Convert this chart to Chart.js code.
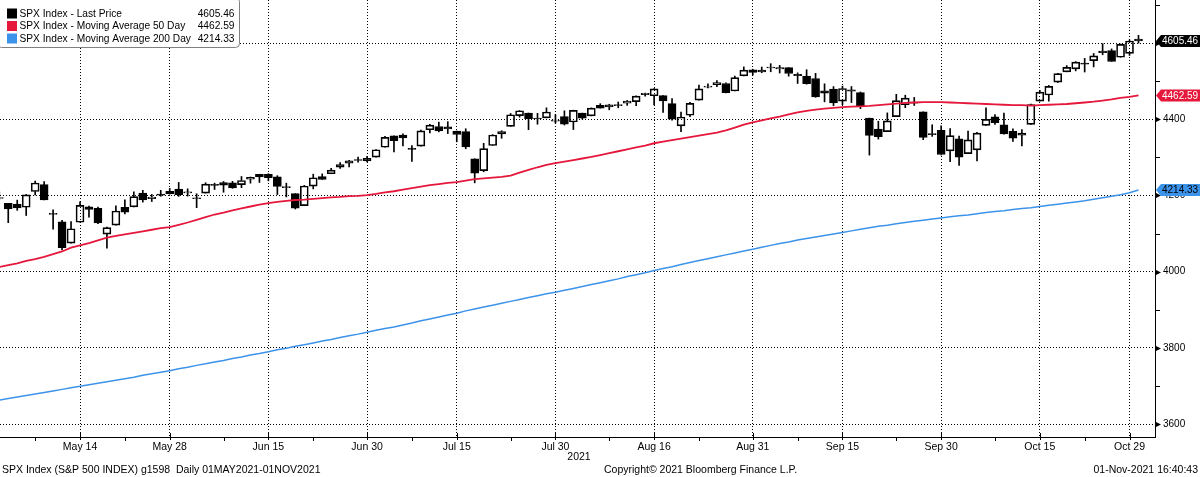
<!DOCTYPE html>
<html><head><meta charset="utf-8">
<script src="https://cdn.jsdelivr.net/npm/chart.js@4.4.0/dist/chart.umd.min.js"></script>
<style>html,body{margin:0;padding:0;background:#fff;overflow:hidden}</style>
</head><body>
<canvas id="c" width="1200" height="477"></canvas>
<script>
const dates = ['May 3','May 4','May 5','May 6','May 7','May 10','May 11','May 12','May 13','May 14',
'May 17','May 18','May 19','May 20','May 21','May 24','May 25','May 26','May 27','May 28',
'Jun 1','Jun 2','Jun 3','Jun 4','Jun 7','Jun 8','Jun 9','Jun 10','Jun 11','Jun 14',
'Jun 15','Jun 16','Jun 17','Jun 18','Jun 21','Jun 22','Jun 23','Jun 24','Jun 25','Jun 28',
'Jun 29','Jun 30','Jul 1','Jul 2','Jul 6','Jul 7','Jul 8','Jul 9','Jul 12','Jul 13',
'Jul 14','Jul 15','Jul 16','Jul 19','Jul 20','Jul 21','Jul 22','Jul 23','Jul 26','Jul 27',
'Jul 28','Jul 29','Jul 30','Aug 2','Aug 3','Aug 4','Aug 5','Aug 6','Aug 9','Aug 10',
'Aug 11','Aug 12','Aug 13','Aug 16','Aug 17','Aug 18','Aug 19','Aug 20','Aug 23','Aug 24',
'Aug 25','Aug 26','Aug 27','Aug 30','Aug 31','Sep 1','Sep 2','Sep 3','Sep 7','Sep 8',
'Sep 9','Sep 10','Sep 13','Sep 14','Sep 15','Sep 16','Sep 17','Sep 20','Sep 21','Sep 22',
'Sep 23','Sep 24','Sep 27','Sep 28','Sep 29','Sep 30','Oct 1','Oct 4','Oct 5','Oct 6',
'Oct 7','Oct 8','Oct 11','Oct 12','Oct 13','Oct 14','Oct 15','Oct 18','Oct 19','Oct 20',
'Oct 21','Oct 22','Oct 25','Oct 26','Oct 27','Oct 28','Oct 29','Nov 1'];

const openP = [4191.98,4179.04,4177.06,4169.14,4210.34,4228.29,4150.34,4130.55,4074.99,4129.58,
4169.92,4165.94,4098.45,4121.97,4168.61,4170.16,4205.94,4191.59,4201.94,4210.77,
4216.52,4206.82,4191.43,4206.05,4229.34,4233.81,4232.99,4228.56,4242.90,4248.31,
4255.28,4248.87,4220.37,4204.78,4173.40,4224.61,4249.27,4256.97,4274.45,4284.90,
4293.21,4290.65,4300.73,4326.60,4356.46,4351.01,4321.07,4329.38,4372.41,4381.07,
4380.11,4369.02,4367.43,4296.40,4265.11,4331.13,4361.27,4381.20,4409.58,4416.38,
4402.95,4403.59,4395.12,4406.86,4392.74,4415.95,4408.86,4429.07,4437.77,4435.79,
4442.18,4446.08,4464.84,4461.65,4462.12,4440.94,4382.44,4410.56,4450.29,4484.40,
4490.45,4493.75,4474.10,4513.76,4529.75,4528.80,4534.48,4532.42,4535.38,4518.09,
4513.02,4506.92,4474.81,4479.33,4447.49,4477.09,4469.74,4402.95,4374.45,4367.43,
4406.75,4438.04,4442.12,4419.54,4362.41,4370.67,4317.16,4348.84,4309.87,4319.57,
4383.73,4406.51,4385.44,4368.31,4358.01,4386.75,4447.69,4463.72,4497.34,4524.42,
4532.24,4546.12,4553.69,4578.69,4580.22,4562.84,4572.87,4610.62];

const highP = [4209.39,4179.04,4187.72,4202.70,4238.04,4236.39,4162.04,4134.73,4131.58,4183.13,
4171.92,4169.15,4116.93,4172.80,4188.72,4209.52,4213.42,4202.61,4213.38,4218.36,
4234.12,4217.37,4204.39,4233.45,4232.34,4236.74,4237.09,4249.74,4248.38,4255.59,
4257.16,4251.89,4232.29,4204.78,4226.24,4255.84,4256.60,4271.28,4286.12,4292.14,
4300.52,4302.43,4320.66,4355.43,4356.46,4361.88,4330.88,4371.60,4386.68,4392.37,
4393.68,4369.02,4375.09,4296.40,4336.84,4359.70,4369.87,4415.18,4422.73,4416.38,
4415.47,4429.97,4412.25,4422.18,4423.79,4416.17,4429.76,4440.82,4439.39,4445.21,
4449.44,4461.77,4468.37,4480.26,4462.12,4454.32,4418.61,4444.35,4489.88,4492.81,
4501.71,4495.90,4513.33,4537.36,4531.39,4537.11,4545.85,4541.45,4535.38,4521.79,
4529.90,4520.47,4492.99,4485.68,4486.87,4485.87,4471.52,4402.95,4394.87,4416.75,
4465.40,4463.12,4457.30,4419.54,4385.57,4382.55,4375.19,4355.51,4369.23,4365.57,
4429.97,4412.02,4415.88,4374.89,4372.87,4439.73,4475.82,4488.75,4520.40,4540.87,
4551.44,4559.67,4572.62,4598.53,4584.57,4597.55,4608.08,4620.34];

const lowP = [4188.03,4128.59,4160.94,4147.33,4201.64,4188.13,4111.53,4056.88,4074.99,4129.58,
4142.69,4125.99,4061.41,4121.97,4151.72,4170.16,4182.52,4184.11,4197.78,4203.57,
4197.59,4198.27,4167.93,4206.05,4215.66,4208.41,4218.74,4220.34,4232.25,4234.07,
4238.35,4202.45,4196.05,4164.40,4173.40,4217.27,4241.43,4256.97,4271.16,4274.67,
4287.04,4287.96,4300.73,4326.60,4314.37,4329.79,4289.37,4329.38,4364.03,4366.92,
4362.36,4340.70,4322.53,4233.13,4262.05,4331.13,4350.06,4381.20,4405.45,4372.51,
4387.01,4403.59,4389.65,4384.81,4373.00,4400.23,4408.86,4429.07,4424.74,4430.03,
4436.42,4435.96,4460.82,4437.66,4417.83,4397.59,4367.73,4406.80,4450.29,4482.28,
4485.66,4468.99,4474.10,4513.76,4515.80,4522.02,4524.66,4521.31,4513.00,4493.95,
4492.07,4457.66,4445.70,4435.46,4438.37,4443.80,4427.76,4305.91,4347.96,4367.43,
4406.75,4430.27,4436.19,4346.33,4355.08,4306.24,4288.52,4278.94,4309.87,4290.49,
4383.73,4386.22,4360.59,4342.09,4329.92,4386.75,4447.69,4447.47,4496.41,4524.40,
4526.89,4524.00,4537.36,4569.17,4551.66,4562.84,4567.59,4600.00];

const closeP = [4192.66,4164.66,4167.59,4201.62,4232.60,4188.43,4152.10,4063.04,4112.50,4173.85,
4163.29,4127.83,4115.68,4159.12,4155.86,4197.05,4188.13,4195.99,4200.88,4204.11,
4202.04,4208.12,4192.85,4229.89,4226.52,4227.26,4219.55,4239.18,4247.44,4255.15,
4246.59,4223.70,4221.86,4166.45,4224.79,4246.44,4241.84,4266.49,4280.70,4290.61,
4291.80,4297.50,4319.94,4352.34,4343.54,4358.13,4320.82,4369.55,4384.63,4369.21,
4374.30,4360.03,4327.16,4258.49,4323.06,4358.69,4367.48,4411.79,4422.30,4401.46,
4400.64,4419.15,4395.26,4387.16,4423.15,4402.66,4429.10,4436.52,4432.35,4436.75,
4447.70,4460.83,4468.00,4479.71,4448.08,4400.27,4405.80,4441.67,4479.53,4486.23,
4496.19,4470.00,4509.37,4528.79,4522.68,4524.09,4536.95,4535.43,4520.03,4514.07,
4493.28,4458.58,4468.73,4443.05,4480.70,4473.75,4432.99,4357.73,4354.19,4395.64,
4448.98,4455.48,4443.11,4352.63,4359.46,4307.54,4357.04,4300.46,4345.72,4363.55,
4399.76,4391.34,4361.19,4350.65,4363.80,4438.26,4471.37,4486.46,4519.63,4536.19,
4549.78,4544.90,4566.48,4574.79,4551.68,4596.42,4605.38,4605.46];

const ma50 = [4012,4017,4022,4028,4033,4039,4046,4053,4063,4069,
4075,4082,4089,4094,4098,4102,4106,4110,4114,4117,
4123,4129,4136,4143,4150,4155,4161,4166,4171,4176,
4180,4183,4186,4188,4189,4191,4193,4195,4196,4198,
4199,4201,4204,4208,4211,4215,4219,4223,4227,4230,
4233,4235,4239,4243,4245,4247,4249,4252,4260,4267,
4274,4280,4285,4289,4293,4297,4301,4306,4311,4316,
4321,4326,4331,4337,4341,4345,4349,4353,4357,4361,
4365,4371,4378,4386,4392,4397,4402,4407,4413,4418,
4422,4425,4428,4430,4432,4433,4434,4435,4437,4439,
4441,4443,4444,4445,4445,4445,4444,4443,4442,4441,
4440,4439,4438,4437,4437,4436,4437,4438,4439,4440,
4442,4444,4446,4449,4452,4456,4459,4462.59];

const ma200 = [3663,3667,3671,3675,3679,3683,3687,3691,3695,3699,
3703,3707,3711,3715,3719,3723,3728,3732,3736,3740,
3745,3749,3754,3758,3763,3767,3772,3776,3781,3785,
3790,3795,3799,3804,3808,3813,3818,3822,3827,3832,
3836,3841,3846,3851,3855,3860,3865,3871,3876,3881,
3886,3891,3897,3902,3907,3912,3917,3922,3927,3932,
3937,3942,3946,3951,3956,3961,3966,3971,3976,3981,
3987,3992,3997,4003,4008,4013,4019,4024,4029,4034,
4039,4044,4049,4054,4059,4064,4069,4074,4078,4083,
4087,4091,4095,4099,4103,4107,4111,4115,4119,4122,
4126,4129,4132,4135,4138,4141,4144,4147,4149,4152,
4155,4158,4160,4163,4166,4168,4171,4174,4177,4180,
4183,4186,4190,4194,4198,4202,4207,4214.33];

const tickDates = ['May 14','May 28','Jun 15','Jun 30','Jul 15','Jul 30','Aug 16','Aug 31','Sep 15','Sep 30','Oct 15','Oct 29'];
const minorTickDates = ['May 7','May 21','Jun 8','Jun 22','Jul 8','Jul 23','Aug 9','Aug 23','Sep 8','Sep 23','Oct 8','Oct 22'];
const yTicks = [3600,3800,4000,4200,4400,4600];
const yMinorTicks = [3700,3900,4100,4300,4500,4700];
const seriesNames = ['SPX Index - Last Price','SPX Index - Moving Average 50 Day','SPX Index - Moving Average 200 Day'];
const yearLabel = '2021';
const footerLeft = 'SPX Index (S&P 500 INDEX) g1598  Daily 01MAY2021-01NOV2021';
const footerMid = 'Copyright\u00A9 2021 Bloomberg Finance L.P.';
const footerRight = '01-Nov-2021 16:40:43';

const FONT = "'Liberation Sans', Arial, sans-serif";
const RED = '#e5173b';
const BLUE = '#3c93ea';

const idx = dates.map((d, i) => i);
const bodies = idx.map(i => ({x: i, y: [openP[i], closeP[i]]}));
const upperW = idx.map(i => ({x: i, y: [Math.max(openP[i], closeP[i]), highP[i]]}));
const lowerW = idx.map(i => ({x: i, y: [lowP[i], Math.min(openP[i], closeP[i])]}));
const bodyFill = idx.map(i => closeP[i] >= openP[i] ? 'rgba(255,255,255,0)' : '#000');

const last = arr => arr[arr.length - 1];

const decor = {
  id: 'decor',
  afterDraw(chart) {
    const ctx = chart.ctx, xs = chart.scales.x, ys = chart.scales.y, ca = chart.chartArea;
    ctx.save();
    ctx.strokeStyle = '#000'; ctx.lineWidth = 1;
    ctx.beginPath();
    minorTickDates.forEach(d => {
      const px = Math.round(xs.getPixelForValue(dates.indexOf(d))) + 0.5;
      ctx.moveTo(px, ca.bottom); ctx.lineTo(px, ca.bottom + 4);
    });
    tickDates.forEach(d => {
      const px = Math.round(xs.getPixelForValue(dates.indexOf(d))) + 0.5;
      ctx.moveTo(px, ca.bottom - 4); ctx.lineTo(px, ca.bottom + 3);
    });
    yMinorTicks.forEach(v => {
      const py = Math.round(ys.getPixelForValue(v)) + 0.5;
      ctx.moveTo(ca.right, py); ctx.lineTo(ca.right + 5, py);
    });
    ctx.stroke();
    ctx.fillStyle = '#000';
    yTicks.forEach(v => {
      const py = Math.round(ys.getPixelForValue(v)) + 0.5;
      ctx.beginPath(); ctx.moveTo(ca.right, py - 3); ctx.lineTo(ca.right + 6, py); ctx.lineTo(ca.right, py + 3); ctx.closePath(); ctx.fill();
    });

    // value boxes on the right axis
    const boxes = [
      {v: last(ma200), bg: BLUE, fg: '#000'},
      {v: last(ma50), bg: RED, fg: '#fff'},
      {v: last(closeP), bg: '#000', fg: '#fff'}
    ];
    ctx.font = '10px ' + FONT;
    ctx.textBaseline = 'middle'; ctx.textAlign = 'left';
    boxes.forEach(b => {
      const py = ys.getPixelForValue(b.v);
      const x0 = ca.right + 1, h = 6;
      ctx.fillStyle = b.bg;
      ctx.beginPath();
      ctx.moveTo(x0, py); ctx.lineTo(x0 + 5, py - h); ctx.lineTo(1200, py - h); ctx.lineTo(1200, py + h); ctx.lineTo(x0 + 5, py + h); ctx.closePath();
      ctx.fill();
      ctx.fillStyle = b.fg;
      ctx.fillText(b.v.toFixed(2), x0 + 6, py + 0.5);
    });

    // legend
    ctx.fillStyle = '#fff'; ctx.strokeStyle = '#808080'; ctx.lineWidth = 1;
    ctx.beginPath(); ctx.roundRect(-2.5, -2.5, 242, 50, 4); ctx.fill(); ctx.stroke();
    const cols = ['#000', RED, BLUE];
    const vals = [last(closeP), last(ma50), last(ma200)];
    ctx.font = '10.2px ' + FONT;
    ctx.textBaseline = 'middle';
    seriesNames.forEach((n, k) => {
      const cy = 13.5 + k * 12.5;
      ctx.fillStyle = cols[k]; ctx.fillRect(7, cy - 5, 10, 10);
      ctx.fillStyle = '#000'; ctx.textAlign = 'left'; ctx.fillText(n, 19.5, cy + 0.5);
      ctx.textAlign = 'right'; ctx.fillText(vals[k].toFixed(2), 234.5, cy + 0.5);
    });

    // footer
    ctx.font = '10.5px ' + FONT; ctx.fillStyle = '#000';
    ctx.textAlign = 'center'; ctx.fillText(yearLabel, 579, 457);
    ctx.textAlign = 'left'; ctx.fillText(footerLeft, 2, 470);
    ctx.fillText(footerMid, 604, 470);
    ctx.textAlign = 'right'; ctx.fillText(footerRight, 1198, 470);
    ctx.restore();
  }
};

new Chart(document.getElementById('c'), {
  type: 'bar',
  data: {
    datasets: [
      {type: 'line', data: idx.map(i => ({x: i, y: ma50[i]})), borderColor: RED, borderWidth: 1.8, pointRadius: 0, tension: 0, order: 0},
      {type: 'line', data: idx.map(i => ({x: i, y: ma200[i]})), borderColor: BLUE, borderWidth: 1.5, pointRadius: 0, tension: 0, order: 1},
      {data: bodies, backgroundColor: bodyFill, borderColor: '#000', borderWidth: 1, borderSkipped: false, barThickness: 8, minBarLength: 1, grouped: false, order: 2},
      {data: upperW, backgroundColor: '#000', borderWidth: 0, barThickness: 1, grouped: false, order: 3},
      {data: lowerW, backgroundColor: '#000', borderWidth: 0, barThickness: 1, grouped: false, order: 3}
    ]
  },
  options: {
    responsive: false, animation: false, devicePixelRatio: 1,
    layout: {padding: 0},
    plugins: {legend: {display: false}, tooltip: {enabled: false}},
    scales: {
      x: {
        type: 'linear', min: 0.08, max: 128.84, offset: false,
        afterBuildTicks: s => { s.ticks = tickDates.map(d => ({value: dates.indexOf(d)})); },
        ticks: {autoSkip: false, maxRotation: 0, color: '#000', padding: 4, font: {family: FONT, size: 10.5},
          callback: (v, i) => tickDates[i]},
        grid: {offset: false, color: '#000', lineWidth: 1, drawTicks: false},
        border: {display: true, color: '#000', width: 1, dash: [1, 2]},
        afterFit: s => { s.height = 40; s.paddingLeft = 0; s.paddingRight = 0; }
      },
      y: {
        type: 'linear', position: 'right', min: 3566, max: 4713, beginAtZero: false,
        afterBuildTicks: s => { s.ticks = yTicks.map(v => ({value: v})); },
        ticks: {color: '#000', padding: 8, font: {family: FONT, size: 10}, callback: v => String(v)},
        grid: {color: '#000', lineWidth: 1, drawTicks: false},
        border: {display: true, color: '#000', width: 1, dash: [1, 2]},
        afterFit: s => { s.width = 45; s.paddingTop = 0; s.paddingBottom = 0; }
      }
    }
  },
  plugins: [decor]
});
</script>
</body></html>
